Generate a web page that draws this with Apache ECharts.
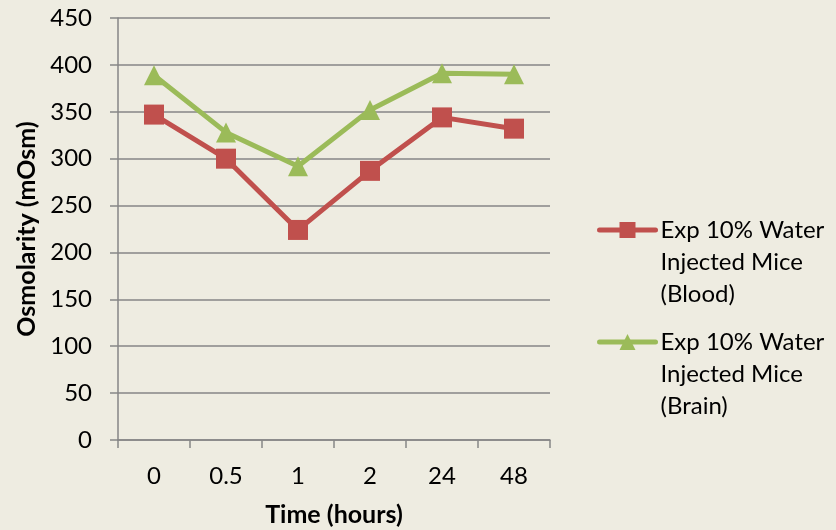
<!DOCTYPE html>
<html><head><meta charset="utf-8">
<script src="https://cdn.jsdelivr.net/npm/echarts@6/dist/echarts.min.js"></script>
<style>html,body{margin:0;padding:0;background:#EEECE1}#c{width:836px;height:530px}</style>
</head><body><div id="c"></div>
<script>
const categories = ['0', '0.5', '1', '2', '24', '48'];
const blood = [347, 300, 224, 287, 344, 332];
const brain = [389, 328, 292, 352, 391, 390];
const bloodName = 'Exp 10% Water Injected Mice (Blood)';
const brainName = 'Exp 10% Water Injected Mice (Brain)';
const yTicks = {min: 0, max: 450, interval: 50};

const FONT = 'Lato';
const chart = echarts.init(document.getElementById('c'));
const legendBase = {
  orient: 'vertical', left: 597, itemWidth: 56, itemHeight: 20, padding: 0,
  formatter: n => '\n\n' + n.replace(' Injected', '\nInjected').replace(' (', '\n('),
  textStyle: {fontFamily: FONT, fontSize: 24, color: '#000', lineHeight: 32},
  lineStyle: {width: 5, cap: 'round'},
  selectedMode: false
};
chart.setOption({
  backgroundColor: '#EEECE1',
  animation: false,
  grid: {left: 118, right: 286, top: 18, bottom: 90, containLabel: false, outerBoundsMode: 'none'},
  legend: [
    Object.assign({}, legendBase, {data: [bloodName], top: 150}),
    Object.assign({}, legendBase, {data: [brainName], top: 262})
  ],
  xAxis: {
    type: 'category', data: categories, boundaryGap: true,
    name: 'Time (hours)', nameLocation: 'middle', nameGap: 62,
    nameTextStyle: {fontFamily: FONT, fontSize: 25, fontWeight: 'bold', color: '#000'},
    axisLine: {lineStyle: {color: '#868686', width: 1.5}},
    axisTick: {show: true, length: 8, interval: 0, lineStyle: {color: '#868686', width: 1.5}},
    axisLabel: {fontFamily: FONT, fontSize: 24, color: '#000', margin: 24, interval: 0}
  },
  yAxis: {
    type: 'value', min: yTicks.min, max: yTicks.max, interval: yTicks.interval,
    name: 'Osmolarity (mOsm)', nameLocation: 'middle', nameGap: 74, nameRotate: 90,
    nameTextStyle: {fontFamily: FONT, fontSize: 25, fontWeight: 'bold', color: '#000'},
    axisLine: {show: true, lineStyle: {color: '#868686', width: 1.5}},
    axisTick: {show: true, length: 8, lineStyle: {color: '#868686', width: 1.5}},
    splitLine: {lineStyle: {color: '#868686', width: 1.5}},
    axisLabel: {fontFamily: FONT, fontSize: 24, color: '#000', margin: 26}
  },
  series: [
    {name: bloodName, type: 'line', data: blood, symbol: 'rect', symbolSize: 20,
     lineStyle: {color: '#C0504D', width: 5}, itemStyle: {color: '#C0504D'}},
    {name: brainName, type: 'line', data: brain, symbol: 'triangle', symbolSize: 20,
     lineStyle: {color: '#9BBB59', width: 5}, itemStyle: {color: '#9BBB59'}}
  ]
});
</script></body></html>
